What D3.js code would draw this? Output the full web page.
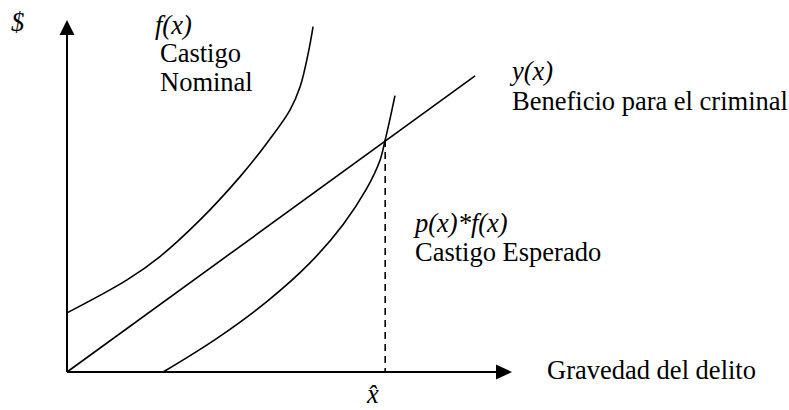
<!DOCTYPE html>
<html>
<head>
<meta charset="utf-8">
<script src="https://cdn.jsdelivr.net/npm/d3@7"></script>
<style>
  body { margin: 0; background: #fff; }
  svg text { font-family: "Liberation Serif", "Times New Roman", serif; fill: #000; }
</style>
</head>
<body>
<div id="grafico"></div>
<script>
// curvas (unidades arbitrarias 0..10)
const castigoNominalX = [0, 1.34, 2.09, 2.99, 3.89, 4.49, 5.01, 5.24, 5.42, 5.53];
const castigoNominalY = [1.68, 2.61, 3.28, 4.32, 5.55, 6.50, 7.44, 8.11, 9.05, 9.81];

const castigoEsperadoX = [2.16, 3.36, 4.49, 5.46, 6.21, 6.73, 7.03, 7.15, 7.26, 7.37];
const castigoEsperadoY = [0, 0.95, 2.0, 3.1, 4.2, 5.2, 6.0, 6.59, 7.2, 7.85];

const beneficioX = [0, 9.17];
const beneficioY = [0, 8.41];

const xOptimo = 7.15; // x sombrero
const yOptimo = 6.59;

const width = 789, height = 410;
const origen = { x: 67, y: 372 };

const x = d3.scaleLinear().domain([0, 10]).range([origen.x, 512]);
const y = d3.scaleLinear().domain([0, 10]).range([origen.y, 20]);

const svg = d3.select("#grafico").append("svg")
    .attr("width", width)
    .attr("height", height);

// ejes con flecha
svg.append("line")
    .attr("x1", x(0)).attr("y1", y(0))
    .attr("x2", x(0)).attr("y2", y(10) + 12)
    .attr("stroke", "#000").attr("stroke-width", 2);
svg.append("path")
    .attr("d", `M${x(0)},${y(10)} L${x(0) - 7.5},${y(10) + 15} L${x(0) + 7.5},${y(10) + 15} Z`)
    .attr("fill", "#000");

svg.append("line")
    .attr("x1", x(0)).attr("y1", y(0))
    .attr("x2", x(10) - 12).attr("y2", y(0))
    .attr("stroke", "#000").attr("stroke-width", 2);
svg.append("path")
    .attr("d", `M${x(10)},${y(0)} L${x(10) - 16},${y(0) - 7.5} L${x(10) - 16},${y(0) + 7.5} Z`)
    .attr("fill", "#000");

const linea = d3.line()
    .x(d => x(d[0]))
    .y(d => y(d[1]))
    .curve(d3.curveCatmullRom.alpha(0.5));

const series = [
    d3.zip(castigoNominalX, castigoNominalY),
    d3.zip(castigoEsperadoX, castigoEsperadoY),
    d3.zip(beneficioX, beneficioY)
];

svg.selectAll(".curva")
    .data(series)
    .enter().append("path")
    .attr("class", "curva")
    .attr("fill", "none")
    .attr("stroke", "#000")
    .attr("stroke-width", 1.6)
    .attr("d", linea);

// línea punteada en x sombrero
svg.append("line")
    .attr("x1", x(xOptimo)).attr("y1", y(yOptimo))
    .attr("x2", x(xOptimo)).attr("y2", y(0))
    .attr("stroke", "#000")
    .attr("stroke-width", 1.6)
    .attr("stroke-dasharray", "7,5");

const textos = [
    { t: "$", x: 11, y: 31, it: true },
    { t: "f(x)", x: 155, y: 34, it: true },
    { t: "Castigo", x: 160, y: 62 },
    { t: "Nominal", x: 160, y: 91 },
    { t: "y(x)", x: 512, y: 80, it: true },
    { t: "Beneficio para el criminal", x: 512, y: 110 },
    { t: "p(x)*f(x)", x: 415, y: 232, it: true },
    { t: "Castigo Esperado", x: 415, y: 261 },
    { t: "Gravedad del delito", x: 547, y: 379 },
    { t: "x\u0302", x: 367, y: 403, it: true }
];

svg.selectAll(".etiqueta")
    .data(textos)
    .enter().append("text")
    .attr("class", "etiqueta")
    .attr("x", d => d.x)
    .attr("y", d => d.y)
    .attr("font-size", 26.5)
    .attr("font-style", d => d.it ? "italic" : "normal")
    .text(d => d.t);
</script>
</body>
</html>
